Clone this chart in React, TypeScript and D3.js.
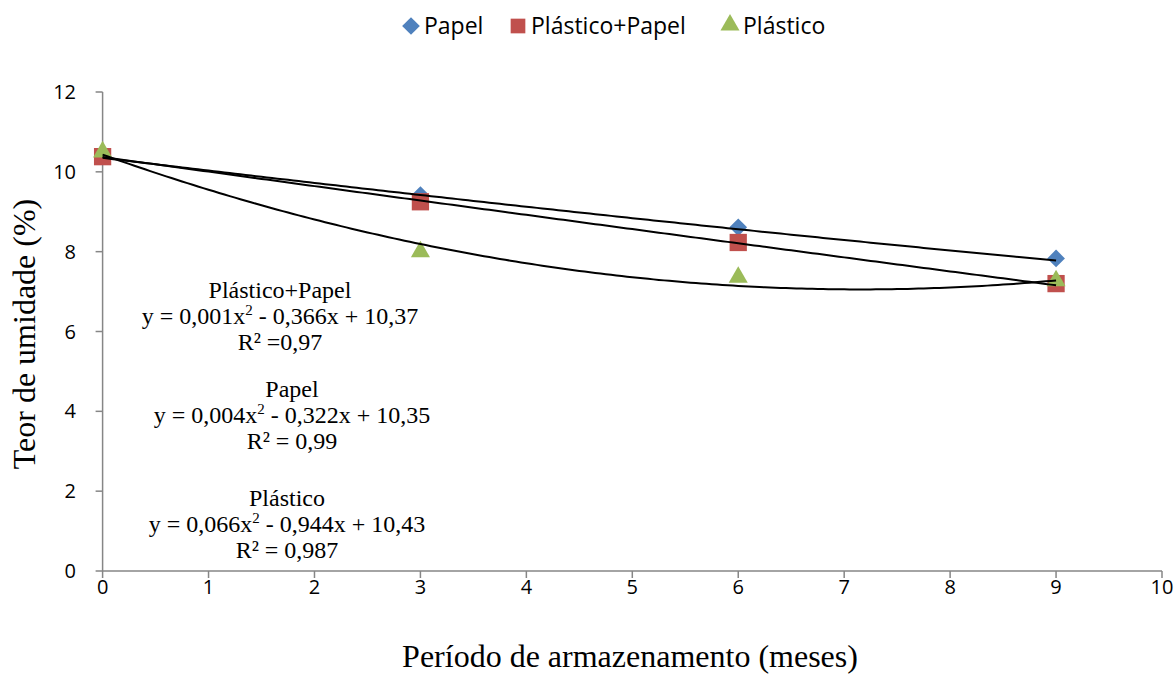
import React, { useEffect } from "react";
import * as d3 from "d3";

const W = 1176;
const H = 675;
const margin = { top: 92, right: 14, bottom: 104, left: 102.6 };

// months of storage
const months = [0, 3, 6, 9];
// moisture content (%) per packaging
const papel = [10.38, 9.42, 8.61, 7.83];
const plasticoPapel = [10.38, 9.25, 8.23, 7.2];
const plastico = [10.5, 8.0, 7.36, 7.27];

// trendline coefficients [c, b, a] as printed on the chart
const papelFit = [10.35, -0.322, 0.004];
const plasticoPapelFit = [10.37, -0.366, 0.001];
const plasticoFit = [10.43, -0.944, 0.066];

const xTicks = [0, 1, 2, 3, 4, 5, 6, 7, 8, 9, 10];
const yTicks = [0, 2, 4, 6, 8, 10, 12];

const legendNames = ["Papel", "Plástico+Papel", "Plástico"];
const colors = ["#4F81BD", "#C0504D", "#9BBB59"];

const sans = "'Open Sans', 'Noto Sans', sans-serif";
const serif = "'Liberation Serif', 'Times New Roman', serif";
const axisGray = "#868686";

const App = () => {
  useEffect(() => {
    document.body.style.margin = "0";
  }, []);

  const x = d3
    .scaleLinear()
    .domain([0, 10])
    .range([margin.left, W - margin.right]);
  const y = d3
    .scaleLinear()
    .domain([0, 12])
    .range([H - margin.bottom, margin.top]);

  const fitLine = (c: number[]) => {
    const xs = d3.range(0, 9.001, 0.05);
    return d3
      .line<number>()
      .x((d) => x(d))
      .y((d) => y(c[0] + c[1] * d + c[2] * d * d))(xs) as string;
  };

  const diamond = d3.symbol().type(d3.symbolDiamond2).size(200)() as string;
  const square = d3.symbol().type(d3.symbolSquare2).size(380)() as string;
  const triangle = d3.symbol().type(d3.symbolTriangle2).size(260)() as string;

  const y0 = y(0);

  // annotation blocks: name, equation parts, r², centre x, baseline y of first row
  const notes = [
    { name: "Plástico+Papel", a: "0,001", b: "0,366", c: "10,37", r2: "R² =0,97", cx: 280, top: 298 },
    { name: "Papel", a: "0,004", b: "0,322", c: "10,35", r2: "R² = 0,99", cx: 292, top: 397 },
    { name: "Plástico", a: "0,066", b: "0,944", c: "10,43", r2: "R² = 0,987", cx: 287, top: 506 },
  ];

  const legendX = [411, 518, 730];

  return (
    <svg width={W} height={H} style={{ display: "block", background: "#fff" }}>
      {/* legend */}
      <g>
        <path d={diamond} transform={`translate(${legendX[0]},26)`} fill={colors[0]} />
        <path d={square} transform={`translate(${legendX[1]},26) scale(0.85)`} fill={colors[1]} />
        <path d={triangle} transform={`translate(${legendX[2]},25)`} fill={colors[2]} />
        {legendNames.map((n, i) => (
          <text key={n} x={legendX[i] + 13} y={34} fontFamily={sans} fontSize={23} fill="#000">
            {n}
          </text>
        ))}
      </g>

      {/* axes */}
      <line x1={x(0)} x2={x(0)} y1={y(12)} y2={y0} stroke={axisGray} strokeWidth={1.5} />
      <line x1={x(0)} x2={x(10)} y1={y0} y2={y0} stroke={axisGray} strokeWidth={1.5} />
      {yTicks.map((t) => (
        <g key={"y" + t}>
          <line x1={x(0) - 7} x2={x(0)} y1={y(t)} y2={y(t)} stroke={axisGray} strokeWidth={1.5} />
          <text x={76} y={y(t) + 7} textAnchor="end" fontFamily={sans} fontSize={20}>
            {t}
          </text>
        </g>
      ))}
      {xTicks.map((t) => (
        <g key={"x" + t}>
          <line x1={x(t)} x2={x(t)} y1={y0} y2={y0 + 7} stroke={axisGray} strokeWidth={1.5} />
          <text x={x(t)} y={y0 + 23} textAnchor="middle" fontFamily={sans} fontSize={20}>
            {t}
          </text>
        </g>
      ))}

      {/* axis titles */}
      <text x={630} y={667} textAnchor="middle" fontFamily={serif} fontSize={32}>
        Período de armazenamento (meses)
      </text>
      <text
        transform={`translate(35,334) rotate(-90)`}
        textAnchor="middle"
        fontFamily={serif}
        fontSize={32}
      >
        Teor de umidade (%)
      </text>

      {/* markers */}
      {months.map((m, i) => (
        <path key={"p" + i} d={diamond} transform={`translate(${x(m)},${y(papel[i])})`} fill={colors[0]} />
      ))}
      {months.map((m, i) => (
        <path key={"pp" + i} d={square} transform={`translate(${x(m)},${y(plasticoPapel[i])})`} fill={colors[1]} />
      ))}
      {months.map((m, i) => (
        <path key={"pl" + i} d={triangle} transform={`translate(${x(m)},${y(plastico[i])})`} fill={colors[2]} />
      ))}

      {/* trendlines */}
      {[papelFit, plasticoPapelFit, plasticoFit].map((c, i) => (
        <path key={"f" + i} d={fitLine(c)} fill="none" stroke="#000" strokeWidth={2} />
      ))}

      {/* equations */}
      {notes.map((n) => (
        <g key={n.name} fontFamily={serif} fontSize={24} textAnchor="middle">
          <text x={n.cx} y={n.top}>{n.name}</text>
          <text x={n.cx} y={n.top + 26}>
            {`y = ${n.a}x`}
            <tspan dy={-9} fontSize={15}>2</tspan>
            <tspan dy={9}>{` - ${n.b}x + ${n.c}`}</tspan>
          </text>
          <text x={n.cx} y={n.top + 52}>{n.r2}</text>
        </g>
      ))}
    </svg>
  );
};

export default App;
